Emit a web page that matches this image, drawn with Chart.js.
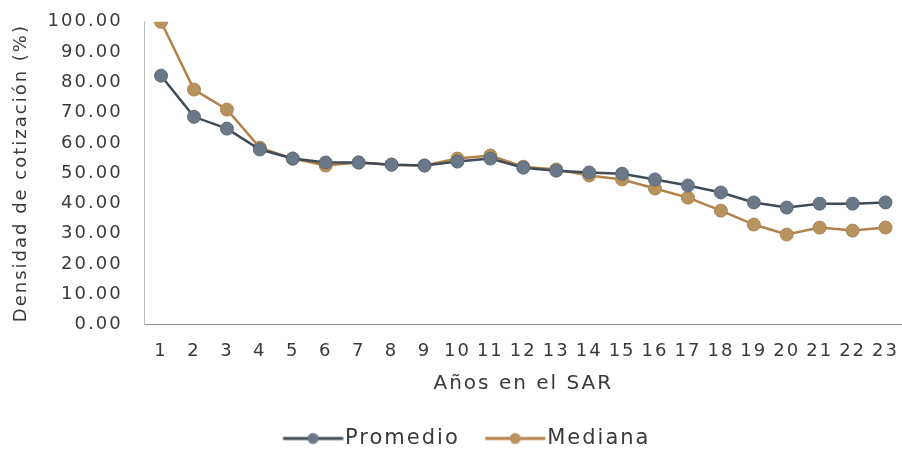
<!DOCTYPE html>
<html>
<head>
<meta charset="utf-8">
<script src="https://cdn.jsdelivr.net/npm/chart.js@4"></script>
<style>
  html, body { margin: 0; padding: 0; background: #fff; }
  #wrap { width: 902px; height: 452px; }
</style>
</head>
<body>
<div id="wrap"><canvas id="chart"></canvas></div>
<script>
const years = ['1', '2', '3', '4', '5', '6', '7', '8', '9', '10', '11', '12',
  '13', '14', '15', '16', '17', '18', '19', '20', '21', '22', '23'];
const promedio = [82.2, 68.6, 64.7, 57.8, 54.8, 53.5, 53.5, 52.8, 52.5, 53.8, 54.8, 51.8,
  50.8, 50.2, 49.8, 47.9, 45.9, 43.6, 40.3, 38.6, 39.9, 39.9, 40.3];
const mediana = [100, 77.6, 71.0, 58.4, 54.8, 52.5, 53.5, 52.8, 52.5, 54.8, 55.8, 52.1,
  51.2, 49.2, 47.9, 44.9, 41.9, 37.6, 33.0, 29.7, 32.0, 31.0, 32.0];

const textColor = '#3a3a3a';
const fontFamily = '"DejaVu Sans", sans-serif';

// legend swatch: line with a dot, shifted right so it nearly touches the text
function makeSwatch(lineColor, dotColor) {
  const c = document.createElement('canvas');
  c.width = 94;
  c.height = 14;
  const g = c.getContext('2d');
  g.strokeStyle = lineColor;
  g.lineWidth = 3;
  g.beginPath();
  g.moveTo(33.5, 7);
  g.lineTo(93.5, 7);
  g.stroke();
  g.fillStyle = dotColor;
  g.beginPath();
  g.arc(63.5, 7, 5.5, 0, Math.PI * 2);
  g.fill();
  return c;
}

const spacing = {
  id: 'spacing',
  beforeUpdate(chart) { chart.ctx.letterSpacing = '2px'; },
  beforeDraw(chart) { chart.ctx.letterSpacing = '2px'; },
};

// invisible tick marks, used only to make room next to the axes
const hiddenTicks = (len) => ({
  display: true,
  drawOnChartArea: false,
  drawTicks: true,
  tickLength: len,
  color: 'rgba(0,0,0,0)',
});

const ctx = document.getElementById('chart').getContext('2d');
new Chart(ctx, {
  type: 'line',
  data: {
    labels: years,
    datasets: [
      {
        label: 'Promedio',
        data: promedio,
        borderColor: '#3f4b57',
        backgroundColor: '#6a7888',
        pointBackgroundColor: '#6a7888',
        pointBorderColor: '#5d6b7a',
        borderWidth: 2.5,
        pointRadius: 6.5,
        pointBorderWidth: 1,
        tension: 0,
      },
      {
        label: 'Mediana',
        data: mediana,
        borderColor: '#b3814a',
        backgroundColor: '#b8925f',
        pointBackgroundColor: '#b8925f',
        pointBorderColor: '#ad8652',
        borderWidth: 2.5,
        pointRadius: 6.5,
        pointBorderWidth: 1,
        tension: 0,
      },
    ],
  },
  options: {
    responsive: true,
    maintainAspectRatio: false,
    animation: false,
    layout: { autoPadding: false, padding: { top: 0, right: 0, left: 7, bottom: -7 } },
    plugins: {
      legend: {
        position: 'bottom',
        labels: {
          usePointStyle: true,
          pointStyleWidth: 76,
          color: textColor,
          font: { family: fontFamily, size: 21 },
          padding: 1,
          generateLabels: (chart) => chart.data.datasets.map((ds, i) => ({
            text: ds.label,
            datasetIndex: i,
            fontColor: textColor,
            pointStyle: makeSwatch(ds.borderColor, ds.pointBackgroundColor),
            lineWidth: 0,
            strokeStyle: ds.borderColor,
            fillStyle: ds.pointBackgroundColor,
          })),
        },
      },
      tooltip: { enabled: false },
    },
    scales: {
      x: {
        offset: true,
        grid: hiddenTicks(14),
        border: { color: '#8a8a8a', width: 1 },
        ticks: { color: textColor, font: { family: fontFamily, size: 18 }, padding: 2, maxRotation: 0, autoSkip: false },
        title: { display: true, text: 'Años en el SAR', color: textColor, font: { family: fontFamily, size: 20 }, padding: { top: 8, bottom: 31 } },
      },
      y: {
        min: 0,
        max: 100,
        grid: hiddenTicks(11),
        border: { color: '#bdbdbd', width: 1 },
        ticks: {
          stepSize: 10,
          color: textColor,
          font: { family: fontFamily, size: 18 },
          padding: 11,
          callback: (v) => v.toFixed(2),
        },
        title: { display: true, text: 'Densidad de cotización (%)', color: textColor, font: { family: fontFamily, size: 18 }, padding: { bottom: 4 } },
      },
    },
  },
  plugins: [spacing],
});
</script>
</body>
</html>
